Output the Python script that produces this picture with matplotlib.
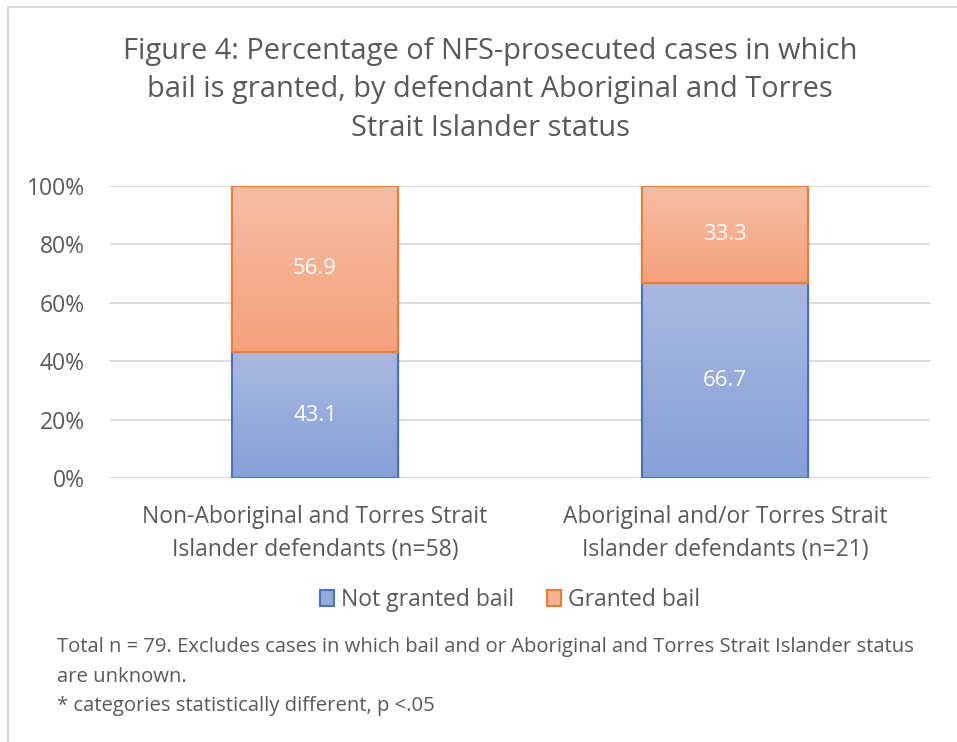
import matplotlib
matplotlib.use('Agg')
from matplotlib import pyplot as plt
from matplotlib.colors import LinearSegmentedColormap
from matplotlib.patches import Rectangle, Patch
import numpy as np

categories = ["Non-Aboriginal and Torres Strait\nIslander defendants (n=58)",
              "Aboriginal and/or Torres Strait\nIslander defendants (n=21)"]
not_granted = [43.1, 66.7]
granted = [56.9, 33.3]
series_names = ["Not granted bail", "Granted bail"]
title = ("Figure 4: Percentage of NFS-prosecuted cases in which\n"
         "bail is granted, by defendant Aboriginal and Torres\n"
         "Strait Islander status")
notes = ["Total n = 79. Excludes cases in which bail and or Aboriginal and Torres Strait Islander status",
         "are unknown.",
         "* categories statistically different, p <.05"]

plt.rcParams['font.family'] = ['Open Sans', 'DejaVu Sans']
GREY = '#595959'

fig = plt.figure(figsize=(9.57, 7.42), dpi=100, facecolor='w')
# light chart border (cropped at right/bottom)
fig.patches.append(Rectangle((8 / 957, -0.1), 1.2, 1 - 7 / 742 + 0.1,
                             transform=fig.transFigure, fill=False,
                             edgecolor='#d9d9d9', linewidth=1.5))

ax = fig.add_axes([110 / 957, 1 - 478.3 / 742, 820 / 957, 292.6 / 742])

x = np.arange(len(categories))
width = 0.405
b1 = ax.bar(x, not_granted, width, color='none', edgecolor='#4472c4', linewidth=1.5, zorder=3)
b2 = ax.bar(x, granted, width, bottom=not_granted, color='none', edgecolor='#ed7d31', linewidth=1.5, zorder=3)

blue_cmap = LinearSegmentedColormap.from_list('b', ['#87a0d8', '#a9b8e0'])
orange_cmap = LinearSegmentedColormap.from_list('o', ['#f4a27d', '#f7bda3'])
grad = np.linspace(0, 1, 256).reshape(-1, 1)
for bars, cmap in [(b1, blue_cmap), (b2, orange_cmap)]:
    for p in bars:
        x0, y0 = p.get_x(), p.get_y()
        w, h = p.get_width(), p.get_height()
        # soft shadow on the right
        ax.add_patch(Rectangle((x0 + 0.006, y0 - 0.4), w, h, facecolor='#000000',
                               alpha=0.08, edgecolor='none', zorder=1.5))
        im = ax.imshow(grad, extent=(x0, x0 + w, y0, y0 + h), origin='lower',
                       cmap=cmap, aspect='auto', zorder=2)
        im.set_clip_path(p)

for bars, vals in [(b1, not_granted), (b2, granted)]:
    for p, v in zip(bars, vals):
        ax.text(p.get_x() + p.get_width() / 2, p.get_y() + p.get_height() / 2, f"{v:.1f}",
                ha='center', va='center', color='white', fontsize=16, zorder=4)

ax.set_xlim(-0.5, 1.5)
ax.set_ylim(0, 100)
ax.set_yticks(range(0, 101, 20))
ax.set_yticklabels([f"{t}%" for t in range(0, 101, 20)])
ax.set_xticks(x)
ax.set_xticklabels(categories, linespacing=1.5)
ax.grid(axis='y', color='#d9d9d9', linewidth=1.3, zorder=0)
ax.set_axisbelow(True)
for s in ax.spines.values():
    s.set_visible(False)
ax.tick_params(axis='both', length=0, colors=GREY, labelsize=16.5)
ax.tick_params(axis='y', pad=18)
ax.tick_params(axis='x', pad=19)

fig.text(490 / 957, 1 - 90 / 742, title, ha='center', va='center', fontsize=20.9,
         color=GREY, linespacing=1.45)

handles = [Patch(facecolor='#95abdb', edgecolor='#4472c4', linewidth=1.5),
           Patch(facecolor='#f6b093', edgecolor='#ed7d31', linewidth=1.5)]
leg = fig.legend(handles, series_names, loc='center', bbox_to_anchor=(510 / 957, 1 - 600 / 742),
                 ncol=2, frameon=False, fontsize=16.5, handlelength=0.65, handleheight=0.65,
                 handletextpad=0.3, columnspacing=1.4)
for t in leg.get_texts():
    t.set_color(GREY)

for i, line in enumerate(notes):
    fig.text(57 / 957, 1 - (647 + 29.5 * i) / 742, line, ha='left', va='center',
             fontsize=14.6, color=GREY)

plt.savefig('out.png', dpi=100)
